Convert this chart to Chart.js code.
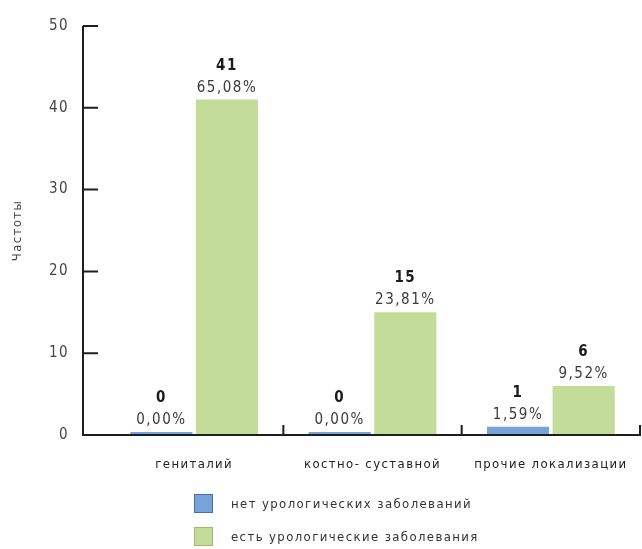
<!DOCTYPE html>
<html lang="ru">
<head>
<meta charset="utf-8">
<script src="https://cdn.jsdelivr.net/npm/chart.js@4/dist/chart.umd.min.js"></script>
<style>
  html, body { margin: 0; padding: 0; background: #fff; overflow: hidden; }
  #wrap { position: relative; width: 642px; height: 549px; overflow: hidden; }
  #chart { position: absolute; left: 0; top: -19px; }
  #legend { position: absolute; left: 194px; top: 493px; font: 13px "Liberation Sans Narrow", "DejaVu Sans Condensed", sans-serif; letter-spacing: 1.4px; color: #333; }
  .row { display: flex; align-items: center; height: 21px; margin-bottom: 12px; }
  .box { width: 19px; height: 19px; box-sizing: border-box; border: 1px solid #2f3f55; margin-right: 18px; }
</style>
</head>
<body>
<div id="wrap">
  <canvas id="chart" width="642" height="568"></canvas>
  <div id="legend"></div>
</div>
<script>
// Categories and series
const categories = ['гениталий', 'костно- суставной', 'прочие локализации'];
const seriesNames = ['нет урологических заболеваний', 'есть урологические заболевания'];
const countsNo = [0, 0, 1];
const countsYes = [41, 15, 6];
const percentNo = ['0,00%', '0,00%', '1,59%'];
const percentYes = ['65,08%', '23,81%', '9,52%'];
const yTicks = [0, 10, 20, 30, 40, 50];

const COLORS = ['#77a3da', '#c3dc9a'];
const BORDERS = ['#4d6e9c', '#9fbb72'];
const FONT = '"Liberation Sans Narrow", "DejaVu Sans Condensed", sans-serif';
const AXIS_OFFSET = 22; // gap between y axis line and first category

// Axis lines and tick marks drawn from the scales
const axisPlugin = {
  id: 'axisLines',
  afterDatasetsDraw(chart) {
    const { ctx, chartArea, scales } = chart;
    const x0 = chartArea.left - AXIS_OFFSET;
    const yS = scales.y, xS = scales.x;
    const yBase = yS.getPixelForValue(0);
    ctx.save();
    ctx.strokeStyle = '#1e1e1e';
    ctx.lineWidth = 2;
    ctx.beginPath();
    ctx.moveTo(x0, yS.getPixelForValue(yTicks[yTicks.length - 1]));
    ctx.lineTo(x0, yBase);
    ctx.lineTo(chartArea.right + 1, yBase);
    yTicks.forEach(v => {
      if (v === 0) return;
      const p = yS.getPixelForValue(v);
      ctx.moveTo(x0, p);
      ctx.lineTo(x0 + 15, p);
    });
    for (let i = 0; i < categories.length; i++) {
      const bx = i < categories.length - 1
        ? (xS.getPixelForValue(i) + xS.getPixelForValue(i + 1)) / 2
        : chartArea.right;
      ctx.moveTo(bx, yBase);
      ctx.lineTo(bx, yBase - 10);
    }
    ctx.stroke();
    ctx.restore();
  }
};

// Count and percentage written above each bar
const valueLabels = {
  id: 'valueLabels',
  afterDatasetsDraw(chart) {
    const { ctx } = chart;
    const pcts = [percentNo, percentYes];
    ctx.save();
    ctx.textAlign = 'center';
    ctx.textBaseline = 'middle';
    ctx.letterSpacing = '1.5px';
    chart.data.datasets.forEach((ds, di) => {
      chart.getDatasetMeta(di).data.forEach((bar, i) => {
        const top = bar.y;
        ctx.fillStyle = '#1a1a1a';
        ctx.font = 'bold 15px ' + FONT;
        ctx.fillText(String(ds.data[i]), bar.x, top - 34);
        ctx.fillStyle = '#3a3a3a';
        ctx.font = '15px ' + FONT;
        ctx.fillText(pcts[di][i], bar.x, top - 12);
      });
    });
    ctx.restore();
  }
};

const spacing = {
  id: 'letterSpacing',
  beforeDraw(chart) { chart.ctx.letterSpacing = '1.4px'; }
};

const chart = new Chart(document.getElementById('chart'), {
  type: 'bar',
  data: {
    labels: categories,
    datasets: [
      { label: seriesNames[0], data: countsNo, backgroundColor: COLORS[0], minBarLength: 3 },
      { label: seriesNames[1], data: countsYes, backgroundColor: COLORS[1] }
    ]
  },
  options: {
    responsive: false,
    animation: false,
    layout: { padding: { top: 0, right: 2, bottom: 74, left: 0 } },
    datasets: { bar: { categoryPercentage: 0.736, barPercentage: 0.947 } },
    plugins: { legend: { display: false }, tooltip: { enabled: false } },
    scales: {
      x: {
        grid: { display: false, drawTicks: false },
        border: { display: false },
        ticks: { color: '#222', font: { family: FONT, size: 13 }, padding: 22, maxRotation: 0, autoSkip: false },
        afterFit(s) { s.height = 40; }
      },
      y: {
        min: 0, max: 50,
        grid: { display: false, drawTicks: false },
        border: { display: false },
        afterBuildTicks(s) { s.ticks = yTicks.map(v => ({ value: v })); },
        ticks: { color: '#444', font: { family: FONT, size: 15 }, padding: 36 },
        title: { display: true, text: 'Частоты', color: '#444', font: { family: FONT, size: 13 }, padding: { top: 10, bottom: 0 } },
        afterFit(s) { s.width = 105; }
      }
    }
  },
  plugins: [spacing, axisPlugin, valueLabels]
});

// Legend list
const legend = document.getElementById('legend');
seriesNames.forEach((name, i) => {
  const row = document.createElement('div');
  row.className = 'row';
  const box = document.createElement('span');
  box.className = 'box';
  box.style.background = COLORS[i];
  box.style.borderColor = BORDERS[i];
  const txt = document.createElement('span');
  txt.textContent = name;
  row.appendChild(box);
  row.appendChild(txt);
  legend.appendChild(row);
});
</script>
</body>
</html>
